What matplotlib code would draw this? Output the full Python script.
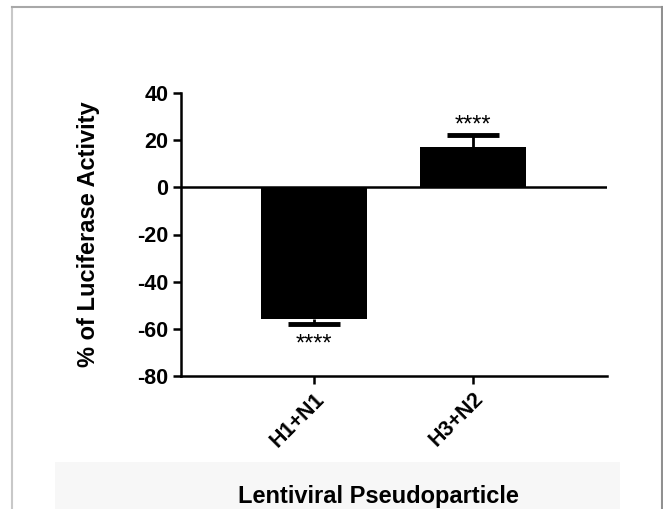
import matplotlib
matplotlib.use("Agg")
import matplotlib.pyplot as plt
from matplotlib.lines import Line2D

plt.rcParams["font.family"] = ["Liberation Sans", "DejaVu Sans"]

# values
groups = ["H1+N1", "H3+N2"]
means = [-55.8, 17.0]
errs = [2.1, 5.0]
stars = ["****", "****"]
yticks = [-80, -60, -40, -20, 0, 20, 40]

fig = plt.figure(figsize=(6.63, 5.09), dpi=100)
fig.patch.set_facecolor("white")

# faint band behind the x label and the page frame
band = fig.add_axes([55 / 663, 0, 565 / 663, 47 / 509], zorder=-5)
band.set_facecolor("#f7f7f7")
band.set_xticks([])
band.set_yticks([])
for sp in band.spines.values():
    sp.set_visible(False)

fig.lines.append(Line2D([12 / 663, 12 / 663], [0, 1 - 7 / 509], transform=fig.transFigure,
                        color="#c8c8c8", lw=1.5))
fig.lines.append(Line2D([12 / 663, 662 / 663], [1 - 7 / 509, 1 - 7 / 509], transform=fig.transFigure,
                        color="#a8a8a8", lw=1.5))
fig.lines.append(Line2D([662 / 663, 662 / 663], [0, 1 - 7 / 509], transform=fig.transFigure,
                        color="#909090", lw=1.5))

ax = fig.add_axes([181 / 663, 1 - 376 / 509, 426 / 663, 283 / 509])
ax.set_facecolor("none")

x = list(range(len(groups)))
bar_w = 0.667
cap_w = 0.33
ax.bar(x, means, width=bar_w, color="black", zorder=2)

# one-sided error bars pointing away from zero
for xi, m, e, s in zip(x, means, errs, stars):
    sign = 1 if m >= 0 else -1
    tip = m + sign * e
    ax.plot([xi, xi], [m, tip], color="black", lw=2, zorder=1, solid_capstyle="butt")
    ax.plot([xi - cap_w / 2, xi + cap_w / 2], [tip, tip], color="black", lw=3.5,
            zorder=1, solid_capstyle="butt")
    ax.annotate(s, (xi, tip), xytext=(0, 3 if sign > 0 else -19.5), textcoords="offset points",
                ha="center", va="baseline", fontsize=17)

ax.axhline(0, color="black", lw=1.8, zorder=3)
ax.set_xlim(-0.836, 1.843)
ax.set_ylim(-80, 40)
ax.set_yticks(yticks)
ax.set_yticklabels([str(t) for t in yticks], fontsize=15.5, fontweight="bold")
ax.set_xticks(x)
ax.set_xticklabels(groups, rotation=45, ha="right", rotation_mode="anchor",
                   fontsize=15.5, fontweight="bold")

for side in ["top", "right"]:
    ax.spines[side].set_visible(False)
for side in ["left", "bottom"]:
    ax.spines[side].set_linewidth(1.8)
ax.tick_params(axis="both", width=1.8, length=6, direction="out", pad=3)

ax.set_ylabel("% of Luciferase Activity", fontsize=17, fontweight="bold")
ax.yaxis.set_label_coords(-0.19, 0.5)
ax.set_xlabel("Lentiviral Pseudoparticle", fontsize=17, fontweight="bold", va="center")
ax.xaxis.set_label_coords(0.464, -0.425)

fig.savefig("out.png", dpi=100)
